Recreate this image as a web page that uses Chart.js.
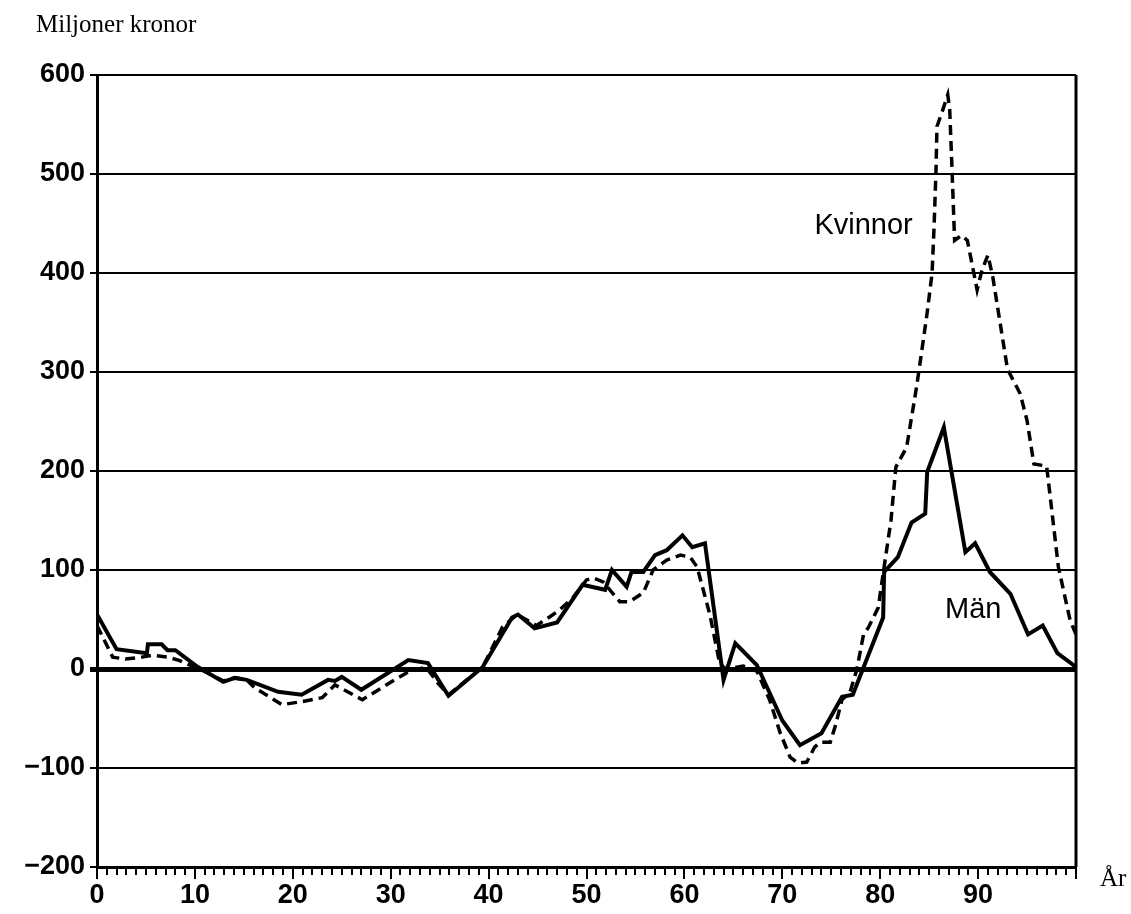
<!DOCTYPE html>
<html>
<head>
<meta charset="utf-8">
<script src="https://cdn.jsdelivr.net/npm/chart.js@4.4.1/dist/chart.umd.min.js"></script>
<style>
  html, body { margin: 0; padding: 0; background: #fff; }
  canvas { display: block; }
</style>
</head>
<body>
<canvas id="chart" width="1131" height="914"></canvas>
<script>
// Män (solid line): age and value, miljoner kronor
const menAge = [0, 2, 5.1, 5.2, 6.6, 7.2, 8, 10.3, 12.9, 14.1, 15.3, 18.5, 20.9, 23.6, 24.3, 25, 27, 31.8, 33.8, 35.9,
  39.4, 42.4, 43, 44.7, 47, 49.6, 51.9, 52.6, 54.1, 54.6, 55.8, 57, 58.2, 59.8, 60.8, 62.1, 64, 65.2, 67.4, 70,
  71.8, 74, 76.1, 77.2, 80.3, 80.4, 81.8, 83.2, 84.6, 84.8, 86.5, 88.7, 89.7, 91.2, 93.3, 95.1, 96.6, 98.1, 100];
const menValue = [55, 20, 16, 25, 25, 19, 19, 2, -13, -9, -11, -23, -26, -11, -12, -8, -21, 9, 6, -27,
  2, 52, 55, 41, 47, 85, 80, 100, 83, 98, 98, 115, 120, 135, 123, 127, -11, 26, 4, -52,
  -77, -65, -28, -26, 52, 98, 113, 148, 157, 199, 244, 118, 127, 98, 76, 35, 44, 16, 2];

// Kvinnor (dashed line)
const womenAge = [0, 1.6, 2.9, 4.6, 5.7, 7.2, 8.3, 9, 10.5, 12.9, 14.1, 15.3, 16.1, 18.9, 20.9, 23, 24.3, 27.1, 30.4, 31.8,
  33.6, 34.8, 35.9, 39.4, 41.4, 42.9, 44.9, 46.3, 47.3, 48.6, 50, 50.7, 51.7, 53.4, 54.4, 55.8, 56.8, 58.2, 59.6, 60.6,
  61.3, 62.6, 63.6, 64.2, 66, 67.4, 68.7, 69.8, 70.8, 71.6, 72.5, 73.3, 73.9, 74.9, 75.4, 76.1, 76.9, 77.6, 78.3, 78.8,
  79.8, 80.4, 81.1, 81.6, 82.7, 83.7, 84.2, 84.8, 85.3, 85.5, 85.7, 85.8, 86.4, 86.9, 87.1, 87.3, 87.6, 88.3, 88.9, 89.9,
  90.4, 91, 91.5, 93, 94.3, 95, 95.7, 97, 98.2, 99.4, 100];
const womenValue = [44, 12, 10, 12, 14, 12, 9, 6, 0, -12, -9, -11, -19, -36, -33, -29, -16, -31, -11, -3,
  2, -14, -26, 2, 42, 55, 44, 53, 60, 72, 90, 92, 88, 68, 68, 77, 100, 110, 115, 113,
  103, 55, 6, 0, 3, -2, -31, -65, -89, -95, -94, -79, -74, -74, -58, -31, -24, -1, 35, 42,
  62, 103, 150, 204, 224, 284, 318, 360, 400, 446, 504, 548, 565, 580, 565, 514, 433, 438, 433, 383,
  403, 418, 396, 303, 278, 251, 207, 205, 103, 49, 35];

const xTickLabels = [0, 10, 20, 30, 40, 50, 60, 70, 80, 90];
const seriesLabels = ['Män', 'Kvinnor'];
const labelSpots = [{ text: 'Kvinnor', x: 78.3, y: 447 }, { text: 'Män', x: 89.5, y: 60 }];

const toPoints = (ages, vals) => ages.map((a, i) => ({ x: a, y: vals[i] }));

// extra drawing: minor year ticks, right frame line and the texts
const extras = {
  id: 'extras',
  afterDraw(chart) {
    const c = chart.ctx;
    const xs = chart.scales.x, ys = chart.scales.y;
    const area = chart.chartArea;
    c.save();
    c.strokeStyle = '#000';
    c.lineWidth = 2;
    for (let yr = 0; yr <= 100; yr++) {
      if (yr % 10 === 0) continue;
      const px = Math.round(xs.getPixelForValue(yr));
      c.beginPath();
      c.moveTo(px, area.bottom);
      c.lineTo(px, area.bottom + 8);
      c.stroke();
    }
    c.lineWidth = 3;
    c.beginPath();
    c.moveTo(area.right, area.top);
    c.lineTo(area.right, area.bottom);
    c.stroke();

    c.fillStyle = '#000';
    c.textAlign = 'center';
    c.textBaseline = 'middle';
    c.font = '29px "Liberation Sans", Arial, sans-serif';
    labelSpots.forEach(l => {
      c.fillText(l.text, xs.getPixelForValue(l.x), ys.getPixelForValue(l.y));
    });

    c.font = '25px "Liberation Serif", "Times New Roman", serif';
    c.textAlign = 'left';
    c.fillText('Miljoner kronor', 36, 25);
    c.fillText('År', area.right + 24, area.bottom + 12);
    c.restore();
  }
};

new Chart(document.getElementById('chart'), {
  type: 'line',
  data: {
    datasets: [
      {
        label: seriesLabels[0],
        data: toPoints(menAge, menValue),
        borderColor: '#000',
        borderWidth: 4,
        pointRadius: 0,
        tension: 0,
        fill: false
      },
      {
        label: seriesLabels[1],
        data: toPoints(womenAge, womenValue),
        borderColor: '#000',
        borderWidth: 3.5,
        borderDash: [10, 6],
        pointRadius: 0,
        tension: 0,
        fill: false
      }
    ]
  },
  options: {
    responsive: false,
    animation: false,
    layout: { padding: { top: 75, right: 55, left: 0, bottom: 0 } },
    plugins: {
      legend: { display: false },
      tooltip: { enabled: false }
    },
    scales: {
      x: {
        type: 'linear',
        min: 0,
        max: 100,
        afterFit: s => { s.height = 47; },
        afterBuildTicks: s => { s.ticks = xTickLabels.concat([100]).map(v => ({ value: v })); },
        ticks: {
          autoSkip: false,
          maxRotation: 0,
          padding: 0,
          color: '#000',
          font: { family: '"Liberation Sans", Arial, sans-serif', size: 27, weight: 'bold' },
          callback: v => (xTickLabels.includes(v) ? String(v) : '')
        },
        grid: { drawOnChartArea: false, color: '#000', lineWidth: 2, tickLength: 12 },
        border: { display: true, color: '#000', width: 3 }
      },
      y: {
        min: -200,
        max: 600,
        afterFit: s => { s.width = 97; },
        ticks: {
          stepSize: 100,
          padding: 5,
          color: '#000',
          font: { family: '"Liberation Sans", Arial, sans-serif', size: 27, weight: 'bold' },
          callback: v => (v < 0 ? '\u2212' + Math.abs(v) : String(v))
        },
        grid: {
          color: '#000',
          lineWidth: ctx => (ctx.tick && ctx.tick.value === 0 ? 5 : 2),
          tickLength: 7
        },
        border: { display: true, color: '#000', width: 3 }
      }
    }
  },
  plugins: [extras]
});
</script>
</body>
</html>
